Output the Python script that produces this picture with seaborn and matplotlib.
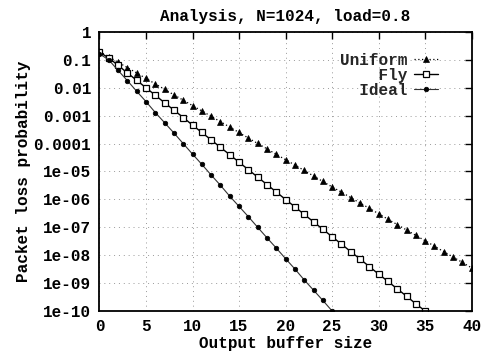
import matplotlib
matplotlib.use("Agg")
import matplotlib.pyplot as plt
import seaborn as sns
import pandas as pd
from matplotlib.ticker import FixedLocator, FixedFormatter

# ---- data ----
x_uniform = list(range(0, 41))
p_uniform = [2.0e-1, 1.29e-1, 8.2e-2, 5.3e-2, 3.4e-2, 2.16e-2, 1.38e-2, 8.8e-3, 5.6e-3, 3.6e-3,
             2.3e-3, 1.48e-3, 9.5e-4, 6.1e-4, 3.9e-4, 2.5e-4, 1.58e-4, 1.01e-4, 6.5e-5, 4.1e-5,
             2.65e-5, 1.7e-5, 1.09e-5, 6.9e-6, 4.4e-6, 2.8e-6, 1.82e-6, 1.16e-6, 7.4e-7, 4.8e-7,
             3.05e-7, 1.95e-7, 1.25e-7, 8.0e-8, 5.1e-8, 3.3e-8, 2.1e-8, 1.34e-8, 8.6e-9, 5.5e-9,
             3.5e-9]
x_fly = list(range(0, 36))
p_fly = [1.9e-1, 1.17e-1, 6.4e-2, 3.4e-2, 1.86e-2, 1.0e-2, 5.4e-3, 2.9e-3, 1.59e-3, 8.6e-4,
         4.6e-4, 2.5e-4, 1.36e-4, 7.3e-5, 4.0e-5, 2.15e-5, 1.16e-5, 6.3e-6, 3.4e-6, 1.84e-6,
         9.9e-7, 5.4e-7, 2.9e-7, 1.57e-7, 8.5e-8, 4.6e-8, 2.5e-8, 1.34e-8, 7.3e-9, 3.9e-9,
         2.1e-9, 1.15e-9, 6.2e-10, 3.4e-10, 1.8e-10, 1.0e-10]
x_ideal = list(range(0, 26))
p_ideal = [1.65e-1, 1.0e-1, 4.2e-2, 1.8e-2, 7.5e-3, 3.2e-3, 1.3e-3, 5.6e-4, 2.4e-4, 1.0e-4,
           4.2e-5, 1.8e-5, 7.5e-6, 3.2e-6, 1.3e-6, 5.6e-7, 2.4e-7, 1.0e-7, 4.2e-8, 1.8e-8,
           7.5e-9, 3.2e-9, 1.3e-9, 5.6e-10, 2.4e-10, 1.0e-10]

series_names = ["Uniform", "Fly", "Ideal"]
x_ticks = [0, 5, 10, 15, 20, 25, 30, 35, 40]
y_ticks = [1, 1e-1, 1e-2, 1e-3, 1e-4, 1e-5, 1e-6, 1e-7, 1e-8, 1e-9, 1e-10]
y_tick_labels = ["1", "0.1", "0.01", "0.001", "0.0001", "1e-05", "1e-06",
                 "1e-07", "1e-08", "1e-09", "1e-10"]
title = "Analysis, N=1024, load=0.8"
xlabel = "Output buffer size"
ylabel = "Packet loss probability"

# ---- style ----
sns.set_theme(style="white")
plt.rcParams["font.family"] = ["Liberation Mono", "DejaVu Sans Mono"]
plt.rcParams["font.size"] = 11.5
plt.rcParams["font.weight"] = "bold"

fig = plt.figure(figsize=(4.82, 3.54), dpi=100)
ax = fig.add_axes([0.2064, 0.1215, 0.7722, 0.7881])

df_u = pd.DataFrame({"x": x_uniform, "p": p_uniform})
df_f = pd.DataFrame({"x": x_fly, "p": p_fly})
df_i = pd.DataFrame({"x": x_ideal, "p": p_ideal})

maxlen = max(len(s) for s in series_names)
labels = [s.rjust(maxlen) for s in series_names]

sns.lineplot(data=df_u, x="x", y="p", ax=ax, color="black", linestyle=(0, (1, 2)),
             linewidth=0.9, marker="^", markersize=4, markeredgecolor="black",
             markerfacecolor="black", markeredgewidth=0.5, label=labels[0])
sns.lineplot(data=df_f, x="x", y="p", ax=ax, color="black", linestyle="-",
             linewidth=1.0, marker="s", markersize=4, markeredgecolor="black",
             markerfacecolor="white", markeredgewidth=0.9, label=labels[1])
sns.lineplot(data=df_i, x="x", y="p", ax=ax, color="#333333", linestyle="-",
             linewidth=0.8, marker="o", markersize=3.3, markeredgecolor="black",
             markerfacecolor="black", markeredgewidth=0.5, label=labels[2])

ax.set_yscale("log")
ax.set_xlim(0, 40)
ax.set_ylim(1e-10, 1)
ax.xaxis.set_major_locator(FixedLocator(x_ticks))
ax.yaxis.set_major_locator(FixedLocator(y_ticks))
ax.yaxis.set_major_formatter(FixedFormatter(y_tick_labels))
ax.yaxis.set_minor_locator(FixedLocator([]))
ax.tick_params(axis="both", which="major", direction="in", length=5, width=1,
               top=True, right=True, labelsize=11.5, colors="black", pad=6)
ax.grid(True, which="major", linestyle=(0, (1, 4)), color="#999999", linewidth=0.7)
for s in ax.spines.values():
    s.set_visible(True)
    s.set_color("black")
    s.set_linewidth(1.3)

ax.set_title(title, fontsize=11.5, pad=8, color="black", fontweight="bold")
ax.set_xlabel(xlabel, fontsize=11.5, labelpad=1, color="black", fontweight="bold")
ax.set_ylabel(ylabel, fontsize=11.5, labelpad=2, color="black", fontweight="bold")

leg = ax.legend(loc="upper right", bbox_to_anchor=(0.94, 0.965), frameon=False,
                markerfirst=False, handlelength=1.5, handletextpad=0.4,
                labelspacing=0.0, borderpad=0.2, fontsize=11.5)

fig.savefig("out.png", dpi=100)
